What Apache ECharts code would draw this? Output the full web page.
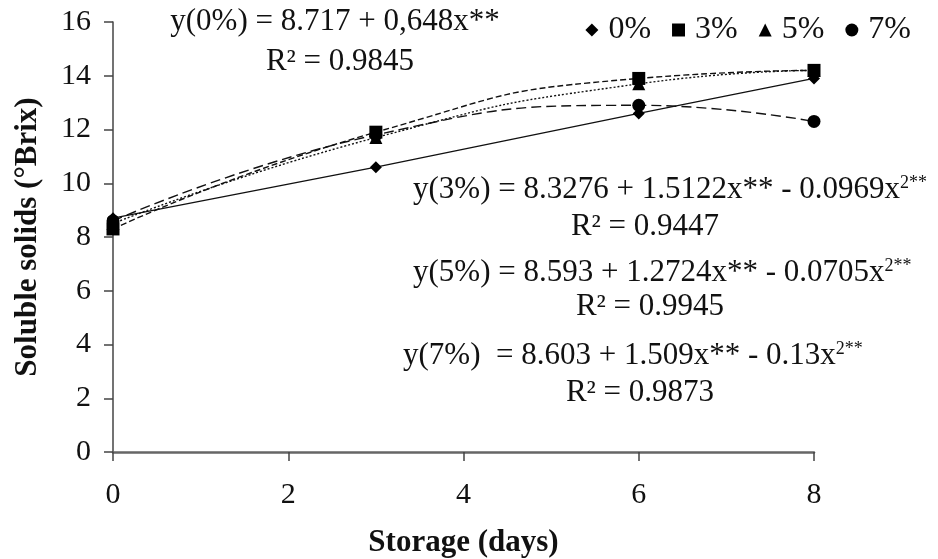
<!DOCTYPE html>
<html>
<head>
<meta charset="utf-8">
<script src="https://cdn.jsdelivr.net/npm/echarts@6/dist/echarts.min.js"></script>
<style>
  html, body { margin: 0; padding: 0; background: #fff; }
  #chart { width: 938px; height: 559px; }
</style>
</head>
<body>
<div id="chart"></div>
<script>
// storage days and soluble solids (°Brix)
const days = [0, 3, 6, 8]
const c0 = [8.7, 10.6, 12.6, 13.9]
const c3 = [8.3, 11.9, 13.9, 14.2]
const c5 = [8.5, 11.7, 13.7, 14.2]
const c7 = [8.6, 11.8, 12.9, 12.3]
const xTicks = [0, 2, 4, 6, 8]
const yTicks = [0, 2, 4, 6, 8, 10, 12, 14, 16]

const serif = 'Liberation Serif, Times New Roman, serif'

function pairs(vals) {
  return days.map((d, i) => [d, vals[i]])
}

function serie(name, vals, symbol, type, smooth) {
  return {
    name: name,
    type: 'line',
    data: pairs(vals),
    symbol: symbol,
    symbolSize: symbol === 'diamond' ? 12 : 13,
    smooth: smooth,
    itemStyle: { color: '#000' },
    lineStyle: { color: '#111', width: 1.4, type: type }
  }
}

let myChart = echarts.init(document.getElementById('chart'))

const sup = { fontSize: 18, fontFamily: serif, padding: [0, 0, 14, 0], fill: '#111' }
function label(x, y, txt, align) {
  return {
    type: 'text', x: x, y: y,
    style: {
      text: txt, font: '31px ' + serif, fill: '#111',
      textAlign: align || 'left', textVerticalAlign: 'middle',
      rich: { s: sup }
    }
  }
}

myChart.setOption({
  animation: false,
  grid: { left: 113, right: 124, top: 22, bottom: 107, containLabel: false, outerBoundsMode: 'none' },
  legend: {
    right: 22, top: 9,
    itemWidth: 13, itemHeight: 13, itemGap: 21,
    textStyle: { fontFamily: serif, fontSize: 32, color: '#111', padding: [0, 0, 0, 5] },
    data: [
      { name: '0%', icon: 'diamond' },
      { name: '3%', icon: 'rect' },
      { name: '5%', icon: 'triangle' },
      { name: '7%', icon: 'circle' }
    ]
  },
  xAxis: {
    type: 'value', min: xTicks[0], max: xTicks[xTicks.length - 1], interval: 2,
    name: 'Storage (days)', nameLocation: 'middle', nameGap: 75,
    nameTextStyle: { fontFamily: serif, fontSize: 31, fontWeight: 'bold', color: '#111' },
    axisLine: { lineStyle: { color: '#666', width: 2.5 } },
    axisTick: { inside: false, length: 9, lineStyle: { color: '#444', width: 1.5 } },
    axisLabel: { fontFamily: serif, fontSize: 30, color: '#111', margin: 28 },
    splitLine: { show: false }
  },
  yAxis: {
    type: 'value', min: yTicks[0], max: yTicks[yTicks.length - 1], interval: 2,
    name: 'Soluble solids (°Brix)', nameLocation: 'middle', nameGap: 70, nameRotate: 90,
    nameTextStyle: { fontFamily: serif, fontSize: 31, fontWeight: 'bold', color: '#111' },
    axisLine: { show: true, lineStyle: { color: '#444', width: 1.5 } },
    axisTick: { show: true, inside: false, length: 9, lineStyle: { color: '#444', width: 1.5 } },
    axisLabel: { fontFamily: serif, fontSize: 30, color: '#111', margin: 22 },
    splitLine: { show: false }
  },
  graphic: [
    label(335, 22, 'y(0%) = 8.717 + 0,648x**', 'center'),
    label(340, 62, 'R² = 0.9845', 'center'),
    label(413, 190, 'y(3%) = 8.3276 + 1.5122x** - 0.0969x{s|2**}'),
    label(645, 227, 'R² = 0.9447', 'center'),
    label(413, 273, 'y(5%) = 8.593 + 1.2724x** - 0.0705x{s|2**}'),
    label(650, 307, 'R² = 0.9945', 'center'),
    label(403, 356, 'y(7%)  = 8.603 + 1.509x** - 0.13x{s|2**}'),
    label(640, 393, 'R² = 0.9873', 'center')
  ],
  series: [
    serie('0%', c0, 'diamond', 'solid', false),
    serie('3%', c3, 'rect', [6, 3], 0.55),
    serie('5%', c5, 'triangle', [2, 2], 0.55),
    serie('7%', c7, 'circle', [10, 5], 0.5)
  ]
})
</script>
</body>
</html>
